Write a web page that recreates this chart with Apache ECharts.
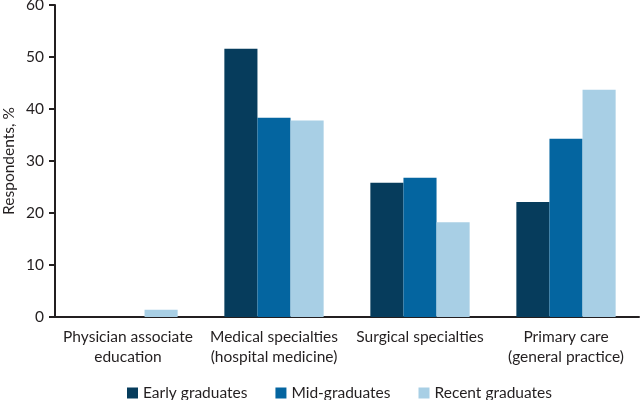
<!DOCTYPE html>
<html>
<head>
<meta charset="utf-8">
<script src="https://cdn.jsdelivr.net/npm/echarts@6/dist/echarts.min.js"></script>
<style>html,body{margin:0;padding:0;background:#fff}#c{width:640px;height:400px}</style>
</head>
<body>
<div id="c"></div>
<script>
const categories = ["Physician associate\neducation", "Medical specialties\n(hospital medicine)", "Surgical specialties", "Primary care\n(general practice)"];
const seriesNames = ["Early graduates", "Mid-graduates", "Recent graduates"];
const earlyValues = [0, 51.6, 25.8, 22.1];
const midValues = [0, 38.3, 26.8, 34.3];
const recentValues = [1.4, 37.8, 18.2, 43.7];
const yTicks = [0, 10, 20, 30, 40, 50, 60];

const colors = ["#063c5c", "#0465a0", "#a8cfe5"];
const FONT = "Lato";
const TXT = "#231f20";
const FS = 15.5;
const chart = echarts.init(document.getElementById('c'), null, {renderer: 'canvas'});
const mk = (name, data, i) => ({
  name, type: 'bar', data, barGap: '0%', barCategoryGap: '32%',
  itemStyle: {color: colors[i]}
});
chart.setOption({
  animation: false,
  textStyle: {fontFamily: FONT},
  grid: {left: 55, right: 1, top: 5, bottom: 83, containLabel: false, outerBoundsMode: 'none'},
  legend: {
    top: 380, left: 122, icon: 'rect', itemWidth: 11, itemHeight: 11, itemGap: 28,
    textStyle: {fontFamily: FONT, fontSize: FS, color: TXT},
    data: seriesNames
  },
  xAxis: {
    type: 'category', data: categories,
    axisLine: {lineStyle: {color: TXT, width: 2}},
    axisTick: {show: false},
    axisLabel: {fontFamily: FONT, fontSize: FS, color: TXT, lineHeight: 20, margin: 10, interval: 0}
  },
  yAxis: {
    type: 'value', min: yTicks[0], max: yTicks[yTicks.length - 1], interval: yTicks[1] - yTicks[0],
    name: 'Respondents, %', nameLocation: 'middle', nameGap: 38, nameRotate: 90, nameMoveOverlap: false,
    nameTextStyle: {fontFamily: FONT, fontSize: FS, color: TXT},
    axisLine: {show: true, lineStyle: {color: TXT, width: 2}},
    axisTick: {show: true, length: 6, lineStyle: {color: TXT, width: 2}},
    axisLabel: {fontFamily: FONT, fontSize: FS, color: TXT, margin: 11},
    splitLine: {show: false}
  },
  series: [mk(seriesNames[0], earlyValues, 0), mk(seriesNames[1], midValues, 1), mk(seriesNames[2], recentValues, 2)]
});
</script>
</body>
</html>
